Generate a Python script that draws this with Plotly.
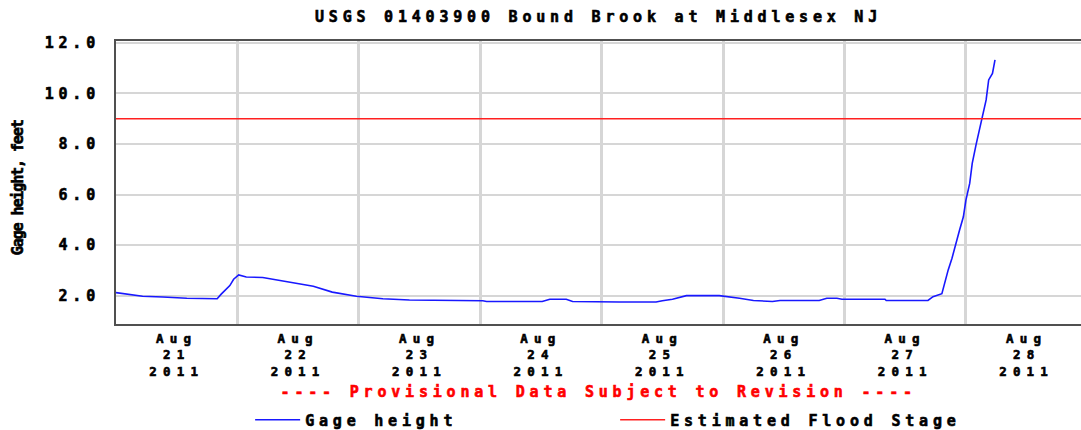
import plotly.graph_objects as go

# ---- data ----
times = [
    "2011-08-21 00:00", "2011-08-21 03:45", "2011-08-21 05:15", "2011-08-21 09:15",
    "2011-08-21 14:00", "2011-08-21 20:00", "2011-08-21 20:45", "2011-08-21 22:30",
    "2011-08-21 23:15", "2011-08-22 00:15", "2011-08-22 01:45", "2011-08-22 05:00",
    "2011-08-22 11:00", "2011-08-22 15:00", "2011-08-22 18:45", "2011-08-22 23:30",
    "2011-08-23 04:45", "2011-08-23 10:00", "2011-08-24 00:30", "2011-08-24 01:15",
    "2011-08-24 12:15", "2011-08-24 13:45", "2011-08-24 17:00", "2011-08-24 18:15",
    "2011-08-25 03:30", "2011-08-25 10:45", "2011-08-25 12:00", "2011-08-25 14:00",
    "2011-08-25 16:45", "2011-08-25 23:15", "2011-08-26 03:15", "2011-08-26 06:00",
    "2011-08-26 09:45", "2011-08-26 11:15", "2011-08-26 19:00", "2011-08-26 20:30",
    "2011-08-26 22:30", "2011-08-26 23:30", "2011-08-27 08:00", "2011-08-27 08:15",
    "2011-08-27 16:30", "2011-08-27 17:30", "2011-08-27 19:15", "2011-08-27 19:45",
    "2011-08-27 20:30", "2011-08-27 21:15", "2011-08-27 22:00", "2011-08-27 22:45",
    "2011-08-27 23:30", "2011-08-28 00:00", "2011-08-28 00:45", "2011-08-28 01:15",
    "2011-08-28 02:00", "2011-08-28 02:45", "2011-08-28 03:30", "2011-08-28 04:00",
    "2011-08-28 04:30", "2011-08-28 05:15", "2011-08-28 05:45",
]
gage_height = [
    2.12, 2.02, 1.98, 1.95,
    1.90, 1.88, 2.05, 2.40,
    2.65, 2.82, 2.74, 2.72,
    2.52, 2.37, 2.14, 1.98,
    1.88, 1.83, 1.80, 1.77,
    1.77, 1.86, 1.86, 1.77,
    1.75, 1.75, 1.80, 1.86,
    2.00, 2.00, 1.90, 1.81,
    1.77, 1.81, 1.81, 1.90,
    1.90, 1.86, 1.86, 1.81,
    1.81, 1.96, 2.08, 2.49,
    3.02, 3.48, 4.07, 4.60,
    5.12, 5.78, 6.44, 7.23,
    7.96, 8.62, 9.21, 9.74,
    10.53, 10.79, 11.32,
]
flood_stage = 9.0

x_range = ["2011-08-21 00:00", "2011-08-28 22:45"]
y_range = [0.88, 12.07]

label_times = ["2011-08-%02d 12:00" % d for d in range(21, 29)]
label_text = ["Aug<br>%d<br>2011" % d for d in range(21, 29)]
y_ticks = [2, 4, 6, 8, 10, 12]
y_tick_text = ["2.0", "4.0", "6.0", "8.0", "10.0", "12.0"]

FONT = "DejaVu Sans Mono"

fig = go.Figure()
fig.add_trace(go.Scatter(
    x=times, y=gage_height, mode="lines", name="Gage height",
    line=dict(color="#1818ff", width=1.6),
))
fig.add_trace(go.Scatter(
    x=x_range, y=[flood_stage, flood_stage], mode="lines",
    name="Estimated Flood Stage",
    line=dict(color="#ff2020", width=1.5),
))

fig.update_layout(
    width=1081, height=430,
    margin=dict(l=116, r=0, t=41, b=106, autoexpand=False),
    paper_bgcolor="white", plot_bgcolor="white",
    font=dict(family=FONT, size=15, color="black", weight="bold"),
    title=dict(
        text="USGS 01403900 Bound Brook at Middlesex NJ",
        x=0.5, xref="paper", y=1 - 17 / 430, yref="container",
        xanchor="center", yanchor="middle",
        font=dict(family=FONT, size=15, color="black", weight="bold"),
    ),
    showlegend=True,
    legend=dict(
        orientation="h", x=0.139, y=-0.339, xanchor="left", yanchor="middle",
        entrywidth=305, entrywidthmode="pixels", itemwidth=45,
        font=dict(family=FONT, size=15, color="black", weight="bold"),
        bgcolor="rgba(0,0,0,0)", borderwidth=0,
    ),
    xaxis=dict(
        type="date", range=x_range,
        tickmode="array", tickvals=label_times, ticktext=label_text,
        showgrid=False, ticks="", ticklabelstandoff=2,
        tickfont=dict(family=FONT, size=12.5, color="black", weight="bold"),
        showline=True, linecolor="#505050", linewidth=2, mirror=True,
        zeroline=False,
        minor=dict(dtick=86400000, tick0="2011-08-21 00:00", showgrid=True,
                   gridcolor="#d6d6d6", gridwidth=3, ticks=""),
    ),
    yaxis=dict(
        range=y_range, tickmode="array", tickvals=y_ticks, ticktext=y_tick_text,
        showgrid=True, gridcolor="#d6d6d6", gridwidth=1.5,
        ticks="", ticklabelstandoff=11,
        tickfont=dict(family=FONT, size=15, color="black", weight="bold"),
        showline=True, linecolor="#505050", linewidth=2, mirror=False,
        zeroline=False,
    ),
    annotations=[
        dict(text="---- Provisional Data Subject to Revision ----",
             xref="paper", yref="paper", x=0.5, y=-0.239,
             xanchor="center", yanchor="middle", showarrow=False,
             font=dict(family=FONT, size=15, color="#ff0000", weight="bold")),
        dict(text="Gage height, feet", textangle=-90,
             xref="paper", yref="paper", x=-0.1016, y=0.482,
             xanchor="center", yanchor="middle", showarrow=False,
             font=dict(family=FONT, size=15, color="black", weight="bold")),
    ],
)

post = """
document.body.style.margin = '0';
var s = document.createElement('style');
s.textContent = 'body{margin:0;} '
  + '.gtitle, .ytick text, .legendtext, .annotation[data-index="0"] .annotation-text {letter-spacing: 4.8px;} '
  + '.xtick text {letter-spacing: 6.2px;} '
  + '.annotation[data-index="1"] .annotation-text {letter-spacing: -1.1px;} '
  + '.gtitle, .ytick text, .xtick text, .legendtext, .annotation[data-index="1"] .annotation-text {stroke: #000; stroke-width: 0.6px;} '
  + '.annotation[data-index="0"] .annotation-text {stroke: #ff0000; stroke-width: 0.6px;}';
document.head.appendChild(s);
"""
fig.write_html("out.html", post_script=post, config={"displayModeBar": False})
